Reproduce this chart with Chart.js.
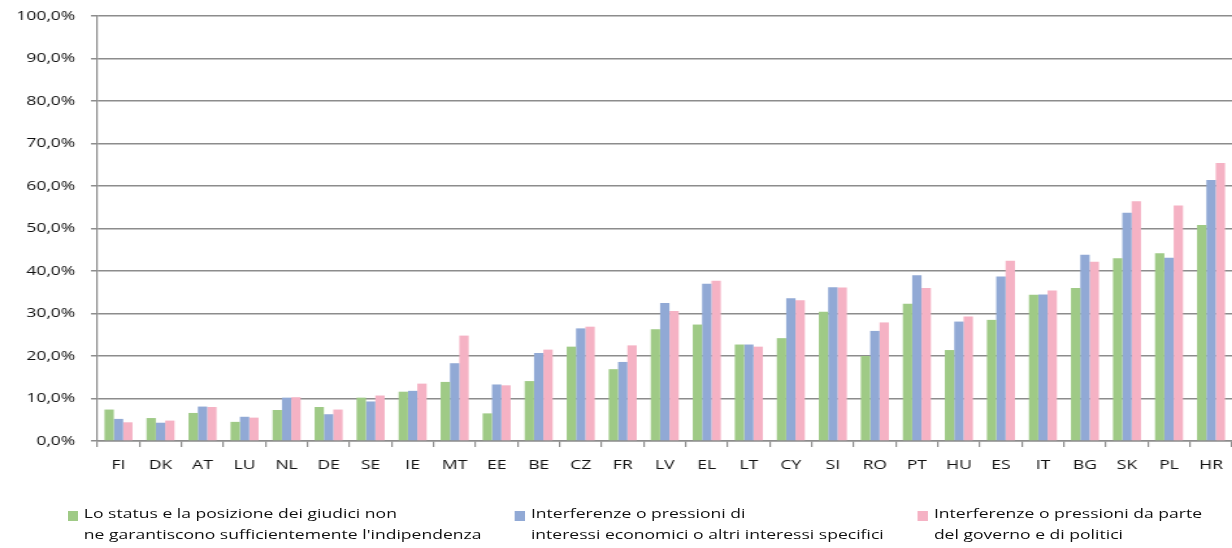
<!DOCTYPE html>
<html>
<head>
<meta charset="utf-8">
<script src="https://cdn.jsdelivr.net/npm/chart.js@4.4.1/dist/chart.umd.min.js"></script>
<style>
  html, body { margin: 0; padding: 0; background: #fff; }
  body { width: 1232px; height: 548px; overflow: hidden; position: relative; }
  #wrap {
    position: absolute; left: 0; top: 0;
    width: 948px; height: 548px;
    transform: scaleX(1.2996); transform-origin: 0 0;
  }
  #c { position: absolute; left: 0; top: 0; }
  .leg { position: absolute; top: 503px; font-family: "Open Sans", sans-serif; font-size: 13.5px; line-height: 21px; color: #111; white-space: nowrap; }
  .leg .sw { position: absolute; top: 8px; width: 8.5px; height: 10px; }
  .leg .tx { position: absolute; left: 13px; top: 0; }
</style>
</head>
<body>
<div id="wrap">
  <canvas id="c" width="948" height="548"></canvas>
  <div id="legend"></div>
</div>
<script>
// Member states, ordered by the first series
const categories = ['FI','DK','AT','LU','NL','DE','SE','IE','MT','EE','BE','CZ','FR','LV','EL','LT','CY','SI','RO','PT','HU','ES','IT','BG','SK','PL','HR'];

// Share of respondents (%) citing each reason
const statusGiudici = [7.4, 5.4, 6.6, 4.5, 7.3, 8.0, 10.2, 11.6, 13.9, 6.5, 14.1, 22.2, 16.9, 26.3, 27.4, 22.7, 24.2, 30.4, 20.0, 32.3, 21.4, 28.5, 34.4, 36.0, 43.0, 44.2, 50.8];
const interessiEconomici = [5.2, 4.3, 8.1, 5.7, 10.2, 6.3, 9.3, 11.8, 18.3, 13.3, 20.7, 26.5, 18.6, 32.5, 37.0, 22.7, 33.6, 36.2, 25.9, 39.0, 28.1, 38.7, 34.5, 43.8, 53.7, 43.1, 61.4];
const governoPolitici = [4.4, 4.8, 8.0, 5.5, 10.3, 7.4, 10.7, 13.5, 24.8, 13.1, 21.5, 26.9, 22.5, 30.6, 37.7, 22.2, 33.1, 36.1, 27.9, 36.0, 29.3, 42.4, 35.4, 42.2, 56.4, 55.4, 65.4];

const yTickLabels = ['0,0%','10,0%','20,0%','30,0%','40,0%','50,0%','60,0%','70,0%','80,0%','90,0%','100,0%'];

const seriesLabels = [
  ['Lo status e la posizione dei giudici non', "ne garantiscono sufficientemente l'indipendenza"],
  ['Interferenze o pressioni di', 'interessi economici o altri interessi specifici'],
  ['Interferenze o pressioni da parte', 'del governo e di politici']
];
const seriesColors = ['#9fca86', '#91a9d5', '#f5b2c4'];
const legendLeft = [51.5, 395.5, 705.6];

const font = { family: '"Open Sans", sans-serif', size: 13.5 };

const chart = new Chart(document.getElementById('c'), {
  type: 'bar',
  data: {
    labels: categories,
    datasets: [statusGiudici, interessiEconomici, governoPolitici].map((d, i) => ({
      label: seriesLabels[i].join(' '),
      data: d,
      backgroundColor: seriesColors[i],
      borderWidth: 0,
      categoryPercentage: 0.667,
      barPercentage: 1.0
    }))
  },
  options: {
    responsive: false,
    animation: false,
    devicePixelRatio: 1,
    layout: { padding: { top: 16, right: 0, left: 0, bottom: 0 } },
    plugins: { legend: { display: false }, tooltip: { enabled: false } },
    scales: {
      x: {
        grid: { display: true, drawOnChartArea: false, drawTicks: true, tickLength: 6, color: '#8c8c8c', lineWidth: 1.2, offset: true },
        border: { display: true, color: '#8c8c8c', width: 1.5 },
        ticks: { color: '#111', font: font, padding: 10, maxRotation: 0, autoSkip: false },
        afterFit: s => { s.height = 107; s.paddingLeft = 0; s.paddingRight = 0; }
      },
      y: {
        min: 0, max: 100,
        grid: { color: '#8c8c8c', lineWidth: 1.5, drawTicks: true, tickLength: 5 },
        border: { display: true, color: '#8c8c8c', width: 1.2 },
        ticks: { stepSize: 10, color: '#111', font: font, padding: 12,
                 callback: (v, i) => yTickLabels[i] },
        afterFit: s => { s.width = 75; s.paddingTop = 0; s.paddingBottom = 0; }
      }
    }
  }
});

// HTML legend with two-line entries
const leg = document.getElementById('legend');
chart.data.datasets.forEach((ds, i) => {
  const item = document.createElement('div');
  item.className = 'leg';
  item.style.left = legendLeft[i] + 'px';
  const sw = document.createElement('div');
  sw.className = 'sw';
  sw.style.background = ds.backgroundColor;
  const tx = document.createElement('div');
  tx.className = 'tx';
  tx.innerHTML = seriesLabels[i].join('<br>');
  item.appendChild(sw);
  item.appendChild(tx);
  leg.appendChild(item);
});
</script>
</body>
</html>
